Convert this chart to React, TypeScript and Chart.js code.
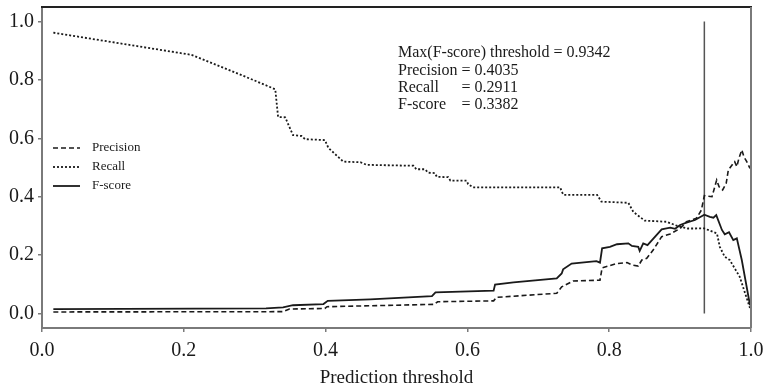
import React, { useEffect, useRef } from "react";
import { Chart, registerables } from "chart.js";

Chart.register(...registerables);

// ---- data ----
const xTicks = [0, 0.2, 0.4, 0.6, 0.8, 1.0];
const yTicks = [0, 0.2, 0.4, 0.6, 0.8, 1.0];

const bestThreshold = 0.9342;
const bestPrecision = 0.4035;
const bestRecall = 0.2911;
const bestFscore = 0.3382;

const precisionX = [0.016, 0.34, 0.349, 0.399, 0.402, 0.553, 0.558, 0.637, 0.641, 0.726, 0.733, 0.749, 0.787, 0.79, 0.811, 0.825, 0.832, 0.841, 0.846, 0.853, 0.862, 0.874, 0.886, 0.9, 0.909, 0.923, 0.93, 0.9342, 0.945, 0.9516, 0.955, 0.96, 0.965, 0.968, 0.975, 0.977, 0.98, 0.983, 0.987, 0.99, 0.994, 0.9986];
const precisionY = [0.005, 0.006, 0.015, 0.017, 0.023, 0.031, 0.04, 0.043, 0.055, 0.069, 0.091, 0.111, 0.114, 0.156, 0.171, 0.174, 0.166, 0.162, 0.183, 0.189, 0.217, 0.263, 0.272, 0.291, 0.314, 0.326, 0.354, 0.4035, 0.4, 0.457, 0.434, 0.423, 0.446, 0.491, 0.514, 0.52, 0.503, 0.532, 0.56, 0.537, 0.52, 0.497];

const recallX = [0.016, 0.211, 0.298, 0.329, 0.333, 0.343, 0.354, 0.366, 0.371, 0.399, 0.404, 0.425, 0.449, 0.458, 0.524, 0.528, 0.54, 0.545, 0.554, 0.557, 0.573, 0.576, 0.599, 0.601, 0.608, 0.731, 0.733, 0.736, 0.783, 0.789, 0.827, 0.834, 0.85, 0.881, 0.897, 0.911, 0.9342, 0.952, 0.956, 0.963, 0.97, 0.984, 0.9986];
const recallY = [0.962, 0.886, 0.8, 0.768, 0.673, 0.672, 0.611, 0.608, 0.597, 0.594, 0.567, 0.52, 0.518, 0.509, 0.506, 0.494, 0.494, 0.482, 0.481, 0.468, 0.467, 0.455, 0.455, 0.443, 0.432, 0.432, 0.417, 0.406, 0.406, 0.383, 0.379, 0.348, 0.318, 0.314, 0.299, 0.291, 0.2911, 0.274, 0.228, 0.194, 0.183, 0.126, 0.018];

const fscoreX = [0.016, 0.316, 0.34, 0.354, 0.397, 0.403, 0.463, 0.55, 0.555, 0.637, 0.639, 0.665, 0.726, 0.733, 0.735, 0.747, 0.782, 0.787, 0.79, 0.801, 0.811, 0.827, 0.832, 0.841, 0.843, 0.848, 0.854, 0.874, 0.886, 0.893, 0.9, 0.909, 0.921, 0.9342, 0.942, 0.947, 0.951, 0.959, 0.963, 0.969, 0.975, 0.98, 0.987, 0.9986];
const fscoreY = [0.015, 0.017, 0.021, 0.028, 0.032, 0.043, 0.048, 0.059, 0.072, 0.078, 0.099, 0.106, 0.12, 0.137, 0.151, 0.171, 0.179, 0.174, 0.223, 0.228, 0.237, 0.24, 0.231, 0.228, 0.214, 0.24, 0.234, 0.288, 0.294, 0.29, 0.303, 0.311, 0.32, 0.3382, 0.331, 0.328, 0.337, 0.286, 0.271, 0.278, 0.251, 0.257, 0.183, 0.028];

const thresholdLineY = [0, 1];

const legendLabels = ["Precision", "Recall", "F-score"];

const FONT = "'Liberation Serif', 'Times New Roman', serif";
const INK = "#1a1a1a";

const pts = (xs: number[], ys: number[]) => xs.map((x, i) => ({ x, y: ys[i] }));

const zeroPad = (s: any) => {
  s.paddingTop = 0;
  s.paddingBottom = 0;
  s.paddingLeft = 0;
  s.paddingRight = 0;
};

const decorPlugin = {
  id: "decor",
  afterDraw(chart: any) {
    const { ctx, chartArea } = chart;
    const { left, top, right, bottom } = chartArea;
    ctx.save();
    // top & right frame
    ctx.setLineDash([]);
    ctx.lineWidth = 2;
    ctx.strokeStyle = "#222";
    ctx.beginPath();
    ctx.moveTo(left - 1, top);
    ctx.lineTo(right + 1, top);
    ctx.stroke();
    ctx.strokeStyle = "#7a7a7a";
    ctx.beginPath();
    ctx.moveTo(right, top);
    ctx.lineTo(right, bottom);
    ctx.stroke();

    // legend
    const dashes = [[5, 3], [2, 2], []];
    const widths = [1.6, 1.8, 1.8];
    ctx.font = `13px ${FONT}`;
    ctx.textBaseline = "middle";
    ctx.fillStyle = INK;
    legendLabels.forEach((lab, i) => {
      const y = top + 141 + i * 19;
      ctx.setLineDash(dashes[i]);
      ctx.lineWidth = widths[i];
      ctx.strokeStyle = INK;
      ctx.beginPath();
      ctx.moveTo(left + 11, y);
      ctx.lineTo(left + 38, y);
      ctx.stroke();
      ctx.setLineDash([]);
      ctx.fillText(lab, left + 50, y);
    });

    // annotation
    ctx.font = `16px ${FONT}`;
    const ax = left + 356;
    const ay = top + 46;
    const lh = 17.3;
    ctx.fillText(`Max(F-score) threshold = ${bestThreshold.toFixed(4)}`, ax, ay);
    const eqX = ax + ctx.measureText("Precision ").width;
    const rows: [string, number][] = [
      ["Precision", bestPrecision],
      ["Recall", bestRecall],
      ["F-score", bestFscore],
    ];
    rows.forEach(([lab, v], i) => {
      const y = ay + (i + 1) * lh;
      ctx.fillText(lab, ax, y);
      ctx.fillText(`= ${v.toFixed(4)}`, eqX, y);
    });
    ctx.restore();
  },
};

export default function App() {
  const ref = useRef<HTMLCanvasElement>(null);
  useEffect(() => {
    if (!ref.current) return;
    const chart = new Chart(ref.current, {
      type: "line",
      data: {
        datasets: [
          {
            label: "Precision",
            data: pts(precisionX, precisionY),
            borderColor: INK,
            borderWidth: 1.6,
            borderDash: [5, 3],
            pointRadius: 0,
            tension: 0,
          },
          {
            label: "Recall",
            data: pts(recallX, recallY),
            borderColor: INK,
            borderWidth: 1.8,
            borderDash: [2, 2],
            pointRadius: 0,
            tension: 0,
          },
          {
            label: "F-score",
            data: pts(fscoreX, fscoreY),
            borderColor: INK,
            borderWidth: 1.8,
            pointRadius: 0,
            tension: 0,
          },
          {
            label: "threshold",
            data: thresholdLineY.map((y) => ({ x: bestThreshold, y })),
            borderColor: "#555",
            borderWidth: 1.5,
            pointRadius: 0,
          },
        ],
      },
      options: {
        responsive: false,
        animation: false,
        devicePixelRatio: 1,
        layout: { padding: { top: 7, right: 13, left: 0, bottom: 0 } },
        plugins: {
          legend: { display: false },
          tooltip: { enabled: false },
        },
        scales: {
          x: {
            type: "linear",
            min: 0,
            max: 1,
            afterBuildTicks: (s: any) => {
              s.ticks = xTicks.map((v) => ({ value: v }));
            },
            afterFit: (s: any) => {
              s.height = 59;
              zeroPad(s);
            },
            ticks: {
              font: { family: FONT, size: 20 },
              color: INK,
              padding: 7,
              maxRotation: 0,
              autoSkip: false,
              callback: (v: any) => Number(v).toFixed(1),
            },
            grid: { drawOnChartArea: false, drawTicks: true, tickLength: 4, color: "#7a7a7a", lineWidth: 1.5 },
            border: { display: true, color: "#7a7a7a", width: 2 },
            title: {
              display: true,
              text: "Prediction threshold",
              font: { family: FONT, size: 19 },
              color: INK,
              padding: { top: 0, bottom: -2 },
            },
          },
          y: {
            type: "linear",
            min: -0.05,
            max: 1.05,
            afterBuildTicks: (s: any) => {
              s.ticks = yTicks.map((v) => ({ value: v }));
            },
            afterFit: (s: any) => {
              s.width = 42;
              zeroPad(s);
            },
            ticks: {
              font: { family: FONT, size: 20 },
              color: INK,
              padding: 4,
              autoSkip: false,
              callback: (v: any) => Number(v).toFixed(1),
            },
            grid: { drawOnChartArea: false, drawTicks: true, tickLength: 4, color: "#7a7a7a", lineWidth: 1.5 },
            border: { display: true, color: "#7a7a7a", width: 2 },
          },
        },
      },
      plugins: [decorPlugin],
    });
    return () => chart.destroy();
  }, []);
  return (
    <div style={{ position: "absolute", left: 0, top: 0, width: 764, height: 387, background: "#fff" }}>
      <canvas ref={ref} width={764} height={387} />
    </div>
  );
}
